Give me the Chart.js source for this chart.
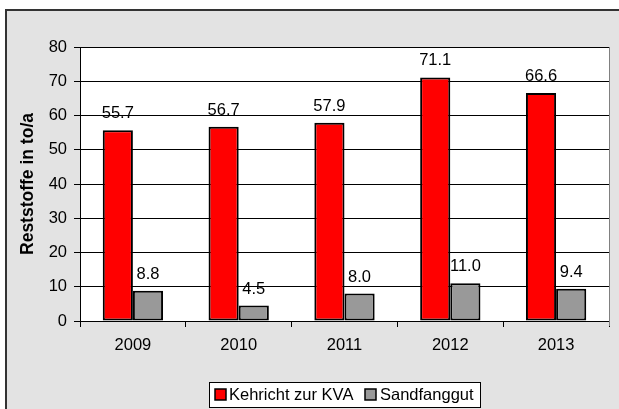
<!DOCTYPE html>
<html>
<head>
<meta charset="utf-8">
<script src="https://cdn.jsdelivr.net/npm/chart.js@4"></script>
<style>
  html, body { margin: 0; padding: 0; background: #fff; overflow: hidden; }
  #frame { position: absolute; left: 5px; top: 9px; width: 700px; height: 500px;
           background: #e3e3e3; border-left: 2px solid #333; border-top: 2px solid #333; }
  #wrap { position: absolute; left: 0; top: 0; width: 619px; height: 409px; }
</style>
</head>
<body>
<div id="frame"></div>
<div id="wrap"><canvas id="chart"></canvas></div>
<script>
var years = ['2009', '2010', '2011', '2012', '2013'];
var kehricht = [55.7, 56.7, 57.9, 71.1, 66.6];
var sandfang = [8.8, 4.5, 8.0, 11.0, 9.4];
var seriesNames = ['Kehricht zur KVA', 'Sandfanggut'];
var seriesColors = ['#ff0000', '#999999'];

var FONT = "'Liberation Sans', Arial, sans-serif";

// white plot area + grey right border
var plotBg = {
  id: 'plotBg',
  beforeDraw: function(chart) {
    var a = chart.chartArea, ctx = chart.ctx;
    ctx.save();
    ctx.fillStyle = '#fff';
    ctx.fillRect(a.left, a.top, a.right - a.left, a.bottom - a.top);
    ctx.restore();
  },
  afterDraw: function(chart) {
    var a = chart.chartArea, ctx = chart.ctx;
    ctx.save();
    ctx.strokeStyle = '#808080';
    ctx.lineWidth = 1;
    ctx.beginPath();
    ctx.moveTo(Math.round(a.right) + 0.5, a.top);
    ctx.lineTo(Math.round(a.right) + 0.5, a.bottom + 5);
    ctx.stroke();
    ctx.restore();
  }
};

// value labels over the bars
var valueLabels = {
  id: 'valueLabels',
  afterDatasetsDraw: function(chart) {
    var ctx = chart.ctx;
    ctx.save();
    ctx.font = '16.5px ' + FONT;
    ctx.fillStyle = '#000';
    ctx.textAlign = 'center';
    ctx.textBaseline = 'alphabetic';
    chart.data.datasets.forEach(function(ds, i) {
      chart.getDatasetMeta(i).data.forEach(function(bar, j) {
        ctx.fillText(ds.data[j].toFixed(1), bar.x, bar.y - 12);
      });
    });
    ctx.restore();
  }
};

// boxed legend at the bottom
var boxLegend = {
  id: 'boxLegend',
  afterDraw: function(chart) {
    var ctx = chart.ctx;
    ctx.save();
    ctx.fillStyle = '#fff';
    ctx.fillRect(209.5, 382.5, 271, 25);
    ctx.strokeStyle = '#000';
    ctx.lineWidth = 1;
    ctx.strokeRect(209.5, 382.5, 271, 25);
    var sq = [215, 365], tx = [229, 380];
    ctx.font = '16.5px ' + FONT;
    ctx.textBaseline = 'middle';
    ctx.textAlign = 'left';
    chart.data.datasets.forEach(function(ds, i) {
      ctx.fillStyle = ds.backgroundColor;
      ctx.fillRect(sq[i], 389, 11, 11);
      ctx.lineWidth = 1.5;
      ctx.strokeStyle = '#000';
      ctx.strokeRect(sq[i], 389, 11, 11);
      ctx.fillStyle = '#000';
      ctx.fillText(ds.label, tx[i], 395);
    });
    ctx.restore();
  }
};

new Chart(document.getElementById('chart'), {
  type: 'bar',
  data: {
    labels: years,
    datasets: [
      { label: seriesNames[0], data: kehricht, backgroundColor: seriesColors[0],
        borderColor: '#000', borderWidth: 2, borderSkipped: false },
      { label: seriesNames[1], data: sandfang, backgroundColor: seriesColors[1],
        borderColor: '#000', borderWidth: 2, borderSkipped: false }
    ]
  },
  options: {
    responsive: true,
    maintainAspectRatio: false,
    animation: false,
    layout: { padding: { top: 47, right: 10, left: 0, bottom: 0 } },
    datasets: { bar: { categoryPercentage: 0.57, barPercentage: 1 } },
    plugins: { legend: { display: false }, tooltip: { enabled: false } },
    scales: {
      x: {
        afterFit: function(s) { s.height = 88; },
        grid: { offset: true, drawOnChartArea: false, color: '#000', tickLength: 6 },
        border: { color: '#000', width: 1 },
        ticks: { color: '#000', padding: 9, font: { family: FONT, size: 16.5 } }
      },
      y: {
        min: 0, max: 80,
        afterFit: function(s) { s.width = 80; },
        grid: { color: '#000', tickLength: 6 },
        border: { color: '#000', width: 1 },
        ticks: { stepSize: 10, color: '#000', padding: 7, font: { family: FONT, size: 16.5 } },
        title: { display: true, text: 'Reststoffe in to/a', color: '#000',
                 padding: { top: 17.5, bottom: 0 },
                 font: { family: FONT, size: 17.5, weight: 'bold' } }
      }
    }
  },
  plugins: [plotBg, valueLabels, boxLegend]
});
</script>
</body>
</html>
